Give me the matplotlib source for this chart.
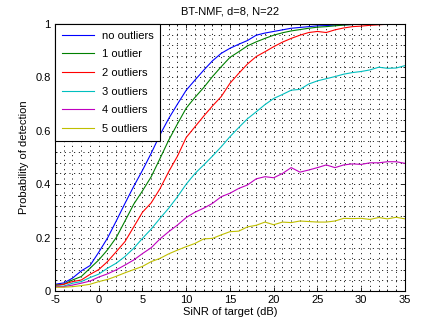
import numpy as np
import matplotlib
matplotlib.use('Agg')
import matplotlib.pyplot as plt
from matplotlib.ticker import MultipleLocator

plt.rcParams['font.family'] = ['Liberation Sans', 'DejaVu Sans']
plt.rcParams['axes.unicode_minus'] = False

sinr = list(range(-5, 36))  # SiNR of target (dB)

no_outliers = [0.025, 0.03, 0.048, 0.075, 0.095, 0.145, 0.198, 0.262, 0.328, 0.392,
               0.452, 0.516, 0.585, 0.646, 0.70, 0.752, 0.79, 0.827, 0.862, 0.89,
               0.909, 0.924, 0.938, 0.958, 0.966, 0.972, 0.978, 0.984, 0.987, 0.99,
               0.993, 0.994, 0.996, 0.997, 0.998, 0.999, 1.0, 1.0, 1.0, 1.0, 1.0]
one_outlier = [0.022, 0.025, 0.041, 0.054, 0.085, 0.116, 0.154, 0.20, 0.262, 0.325,
               0.375, 0.428, 0.496, 0.565, 0.626, 0.685, 0.725, 0.762, 0.803, 0.84,
               0.875, 0.896, 0.918, 0.933, 0.946, 0.958, 0.967, 0.974, 0.979, 0.984,
               0.988, 0.99, 0.993, 0.996, 0.998, 0.999, 1.0, 1.0, 1.0, 1.0, 1.0]
two_outliers = [0.02, 0.025, 0.035, 0.041, 0.062, 0.08, 0.11, 0.147, 0.185, 0.24,
                0.295, 0.33, 0.383, 0.447, 0.505, 0.575, 0.615, 0.655, 0.693, 0.728,
                0.778, 0.815, 0.85, 0.878, 0.896, 0.915, 0.932, 0.946, 0.958, 0.968,
                0.972, 0.968, 0.978, 0.985, 0.99, 0.992, 0.995, 0.997, 0.999, 1.0, 1.0]
three_outliers = [0.018, 0.018, 0.029, 0.035, 0.05, 0.063, 0.085, 0.104, 0.129, 0.16,
                  0.197, 0.232, 0.272, 0.31, 0.353, 0.40, 0.44, 0.472, 0.505, 0.54,
                  0.578, 0.612, 0.645, 0.671, 0.698, 0.721, 0.736, 0.752, 0.755, 0.775,
                  0.787, 0.795, 0.803, 0.812, 0.818, 0.822, 0.828, 0.838, 0.834, 0.835, 0.844]
four_outliers = [0.016, 0.016, 0.022, 0.029, 0.037, 0.052, 0.064, 0.079, 0.097, 0.116,
                 0.14, 0.162, 0.195, 0.222, 0.247, 0.275, 0.295, 0.31, 0.328, 0.353,
                 0.366, 0.384, 0.397, 0.42, 0.428, 0.424, 0.44, 0.462, 0.445, 0.453,
                 0.462, 0.472, 0.462, 0.472, 0.476, 0.474, 0.48, 0.48, 0.484, 0.484, 0.478]
five_outliers = [0.014, 0.014, 0.016, 0.02, 0.025, 0.035, 0.043, 0.055, 0.068, 0.08,
                 0.092, 0.11, 0.122, 0.139, 0.153, 0.166, 0.178, 0.195, 0.197, 0.21,
                 0.222, 0.224, 0.24, 0.246, 0.258, 0.248, 0.258, 0.256, 0.262, 0.26,
                 0.258, 0.258, 0.262, 0.272, 0.271, 0.272, 0.268, 0.275, 0.27, 0.276, 0.27]

series = [no_outliers, one_outlier, two_outliers, three_outliers, four_outliers, five_outliers]
labels = ['no outliers', '1 outlier', '2 outliers', '3 outliers', '4 outliers', '5 outliers']
colors = ['#0000ff', '#008000', '#ff0000', '#00bfbf', '#bf00bf', '#bfbf00']

fig = plt.figure(figsize=(4.45, 3.24), dpi=100)
ax = fig.add_axes([0.1236, 0.102, 0.7864, 0.824])

for vals, lab, col in zip(series, labels, colors):
    ax.plot(sinr, vals, color=col, linewidth=0.8, label=lab)

ax.set_xlim(-5, 35)
ax.set_ylim(0, 1)
ax.xaxis.set_major_locator(MultipleLocator(5))
ax.xaxis.set_minor_locator(MultipleLocator(1))
ax.yaxis.set_minor_locator(MultipleLocator(0.04))
ax.set_yticks([0, 0.2, 0.4, 0.6, 0.8, 1.0])
ax.set_yticklabels(['0', '0.2', '0.4', '0.6', '0.8', '1'])

# matlab-style dotted grid on every tick
ax.grid(which='both', color='black', linestyle=(0, (1, 3.8)), linewidth=0.7)
ax.tick_params(which='both', direction='in', top=True, right=True, labelsize=8, pad=3)
ax.tick_params(which='major', length=3, width=0.6)
ax.tick_params(which='minor', length=1.5, width=0.6)
for sp in ax.spines.values():
    sp.set_linewidth(0.8)

ax.set_title('BT-NMF, d=8, N=22', fontsize=8, pad=7)
ax.set_xlabel('SiNR of target (dB)', fontsize=8, labelpad=1)
ax.set_ylabel('Probability of detection', fontsize=8, labelpad=5)

leg = ax.legend(loc='upper left', borderaxespad=0, fancybox=False, edgecolor='black',
                framealpha=1, fontsize=8, handlelength=2.9, labelspacing=0.78,
                handletextpad=0.7, borderpad=0.6)
leg.get_frame().set_linewidth(0.8)

fig.savefig('out.png', dpi=100)
